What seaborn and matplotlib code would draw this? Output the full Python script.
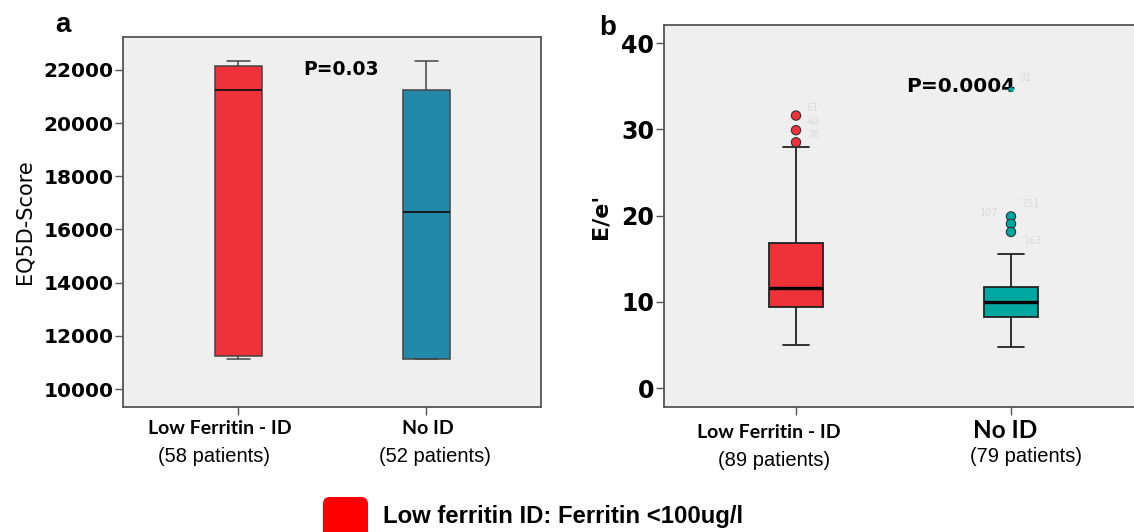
import pandas as pd
import matplotlib.pyplot as plt
import matplotlib.patches as mpatches
import seaborn as sns

W, H = 1134, 532

GROUPS = ["Low Ferritin - ID", "No ID"]
PATIENTS_A = ["(58 patients)", "(52 patients)"]
PATIENTS_B = ["(89 patients)", "(79 patients)"]

# five-number summaries (whisker low, Q1, median, Q3, whisker high)
EQ5D_LOW_FERRITIN = [11120, 11240, 21240, 22150, 22350]
EQ5D_NO_ID = [11120, 11120, 16660, 21240, 22350]
EE_LOW_FERRITIN = [5.0, 9.4, 11.56, 16.8, 27.9]
EE_NO_ID = [4.8, 8.2, 9.93, 11.7, 15.5]

# outliers in panel b
OUT_LOW_FERRITIN = [31.6, 29.9, 28.5]
OUT_LOW_FERRITIN_IDS = ["61", "40", "28"]
OUT_NO_ID = [19.9, 19.05, 18.1]
EXTREME_NO_ID = 34.7

RED = "#EF3139"
BLUE = "#2389AA"
TEAL = "#00A6A0"
PANEL_BG = "#EFEFEF"

sns.set_style("white")
plt.rcParams["font.family"] = ["DejaVu Sans"]
plt.rcParams["text.color"] = "black"
plt.rcParams["axes.labelcolor"] = "black"
plt.rcParams["xtick.color"] = "black"
plt.rcParams["ytick.color"] = "black"


def px(x, y):
    return x / W, 1 - y / H


def style_axes(ax, size):
    ax.set_facecolor(PANEL_BG)
    for s in ax.spines.values():
        s.set_color("#555555")
        s.set_linewidth(1.3)
    ax.tick_params(axis="y", direction="out", length=6, width=1, color="#555555",
                   labelcolor="black", left=True, labelsize=size, pad=1)
    ax.tick_params(axis="x", direction="out", length=6, width=1, color="#555555",
                   bottom=True, labelbottom=False)
    for lab in ax.get_yticklabels():
        lab.set_fontweight("bold")
    ax.set_xlabel("")


fig = plt.figure(figsize=(W / 100, H / 100), dpi=100)

# ---- panel a
ax_a = fig.add_axes([123 / W, 125 / H, 418 / W, 370 / H])
df_a = pd.DataFrame({
    "group": [GROUPS[0]] * 5 + [GROUPS[1]] * 5,
    "value": EQ5D_LOW_FERRITIN + EQ5D_NO_ID,
})
sns.boxplot(data=df_a, x="group", y="value", hue="group", palette=[RED, BLUE],
            saturation=1, width=0.25, whis=(0, 100), showfliers=False, linewidth=1.1,
            linecolor="#444444", medianprops=dict(color="#111111", linewidth=1.3),
            legend=False, ax=ax_a)
ax_a.set_xlim(-0.614, 1.609)
ax_a.set_ylim(9323, 23240)
ax_a.set_yticks([10000, 12000, 14000, 16000, 18000, 20000, 22000])
ax_a.set_ylabel("EQ5D-Score", fontsize=15, labelpad=6, color="black")
style_axes(ax_a, 14.5)
ax_a.text(0.545, 22000, "P=0.03", ha="center", va="center", fontsize=13.5,
          fontweight="bold", color="black")

# ---- panel b
ax_b = fig.add_axes([664 / W, 125 / H, 479 / W, 382 / H])
df_b = pd.DataFrame({
    "group": [GROUPS[0]] * 5 + [GROUPS[1]] * 5,
    "value": EE_LOW_FERRITIN + EE_NO_ID,
})
sns.boxplot(data=df_b, x="group", y="value", hue="group", palette=[RED, TEAL],
            saturation=1, width=0.25, whis=(0, 100), showfliers=False, linewidth=1.3,
            linecolor="#222222", medianprops=dict(color="#000000", linewidth=2.4),
            legend=False, ax=ax_b)
out_df = pd.DataFrame({
    "x": [0] * len(OUT_LOW_FERRITIN) + [1] * len(OUT_NO_ID),
    "y": OUT_LOW_FERRITIN + OUT_NO_ID,
    "group": ["a"] * len(OUT_LOW_FERRITIN) + ["b"] * len(OUT_NO_ID),
})
sns.scatterplot(data=out_df, x="x", y="y", hue="group", palette=[RED, TEAL],
                s=45, edgecolor="#333333", linewidth=0.8, legend=False,
                zorder=5, ax=ax_b)
ax_b.scatter([1], [EXTREME_NO_ID], marker="*", s=12, color=TEAL, zorder=5)
for yv, lab in zip(OUT_LOW_FERRITIN, OUT_LOW_FERRITIN_IDS):
    ax_b.text(0.05, yv + 0.9, lab, fontsize=7, color="#DADADA", va="center")
ax_b.text(1.05, 21.3, "151", fontsize=7, color="#DADADA", va="center")
ax_b.text(0.94, 20.3, "107", fontsize=7, color="#DADADA", va="center", ha="right")
ax_b.text(1.06, 17.0, "163", fontsize=7, color="#DADADA", va="center")
ax_b.text(1.04, 35.9, "91", fontsize=7, color="#DADADA", va="center")
ax_b.set_xlim(-0.614, 1.614)
ax_b.set_ylim(-2.2, 42.1)
ax_b.set_yticks([0, 10, 20, 30, 40])
ax_b.set_ylabel("E/e'", fontsize=16, fontweight="bold", labelpad=8, color="black")
style_axes(ax_b, 17)
ax_b.text(0.765, 35.0, "P=0.0004", ha="center", va="center", fontsize=14.5,
          fontweight="bold", color="black")

# panel letters
fig.text(*px(63, 25), "a", fontsize=20, fontweight="bold", ha="center", va="center",
         family=["Liberation Sans", "DejaVu Sans"])
fig.text(*px(608, 28), "b", fontsize=20, fontweight="bold", ha="center", va="center",
         family=["Liberation Sans", "DejaVu Sans"])

# category labels under the axes
cat_pos_a = [(220, 429, 214, 457), (428, 429, 435, 457)]
cat_pos_b = [(769, 432, 774, 460), (1005, 430, 1026, 457)]
for (xg, yg, xp, yp), g, p in zip(cat_pos_a, GROUPS, PATIENTS_A):
    fig.text(*px(xg, yg), g, ha="center", va="center", fontsize=14, fontweight="bold",
             family=["Lato", "DejaVu Sans"])
    fig.text(*px(xp, yp), p, ha="center", va="center", fontsize=14.5,
             family=["Liberation Sans", "DejaVu Sans"])
for (xg, yg, xp, yp), g, p in zip(cat_pos_b, GROUPS, PATIENTS_B):
    size = 14 if g != "No ID" else 17.5
    fig.text(*px(xg, yg), g, ha="center", va="center", fontsize=size, fontweight="bold",
             family=["Lato", "DejaVu Sans"])
    fig.text(*px(xp, yp), p, ha="center", va="center", fontsize=14.5,
             family=["Liberation Sans", "DejaVu Sans"])

# legend swatch
swatch = mpatches.FancyBboxPatch((323 / W, -0.02), 45 / W, (H - 497) / H + 0.02,
                                 boxstyle="round,pad=0,rounding_size=0.006",
                                 transform=fig.transFigure, facecolor="#FF0000",
                                 edgecolor="none", mutation_aspect=W / H)
fig.patches.append(swatch)
fig.text(*px(383, 517), "Low ferritin ID: Ferritin <100ug/l", ha="left", va="center",
         fontsize=17.2, fontweight="bold", family=["Liberation Sans", "DejaVu Sans"])

fig.savefig("out.png", dpi=100)
